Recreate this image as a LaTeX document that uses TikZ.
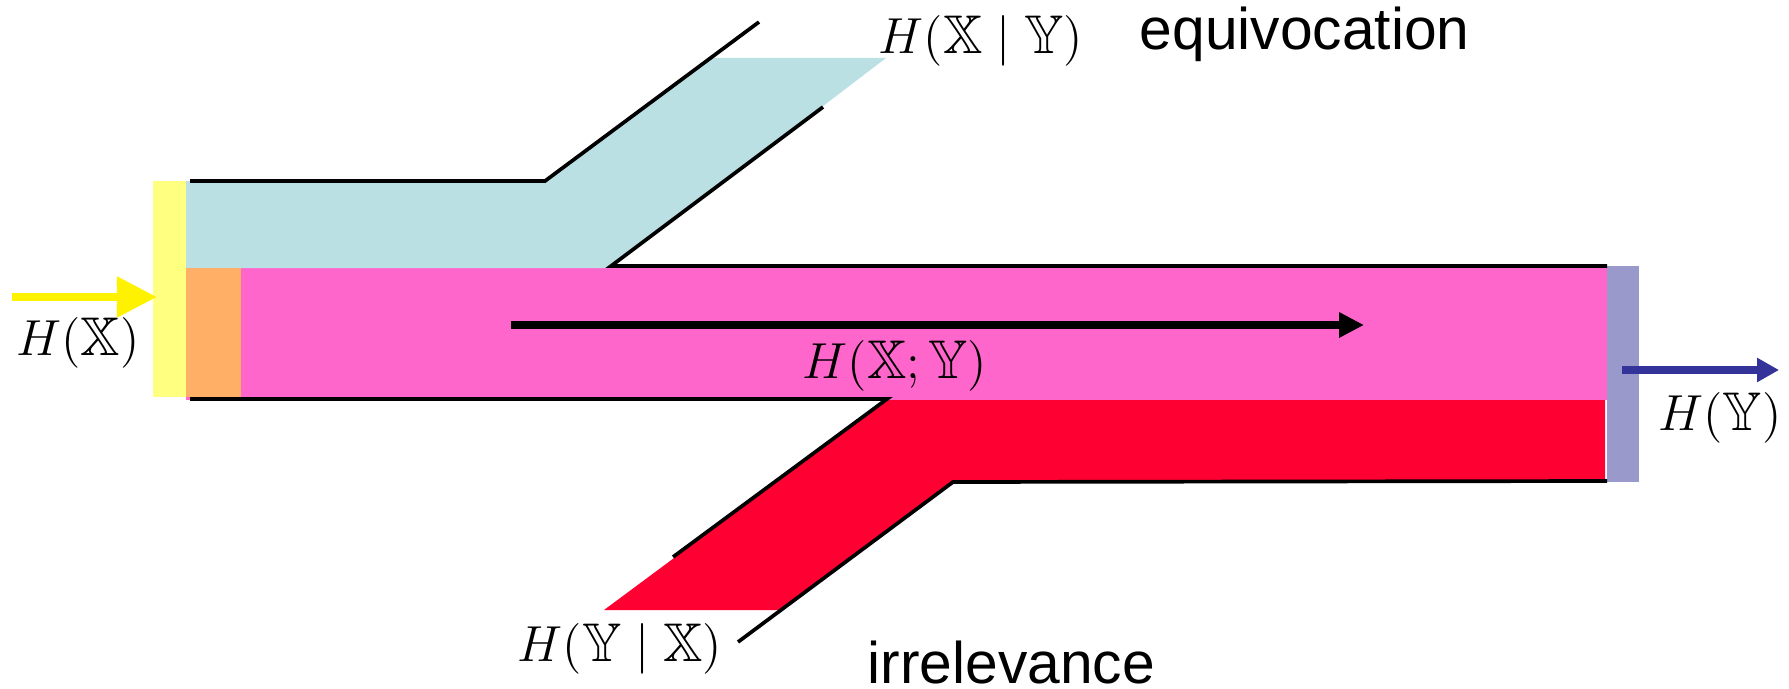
\documentclass[tikz,border=0pt]{standalone}
\usepackage{amssymb}
\usepackage{fontspec}
\setsansfont{Liberation Sans}
\usetikzlibrary{arrows.meta}

\definecolor{yellowbar}{RGB}{255,255,128}
\definecolor{cyanflow}{RGB}{187,224,227}
\definecolor{orangeflow}{RGB}{255,176,102}
\definecolor{pinkflow}{RGB}{255,102,204}
\definecolor{redflow}{RGB}{255,0,51}
\definecolor{purplebar}{RGB}{153,153,204}
\definecolor{outblue}{RGB}{51,51,153}

\begin{document}
\begin{tikzpicture}[x=0.01cm, y=-0.01cm, line width=1pt, line join=miter,
    wall/.style={black, line width=1.05pt},
    mathlabel/.style={inner sep=0pt, font=\fontsize{15.5}{18}\selectfont},
    wordlabel/.style={inner sep=0pt, anchor=base west, font=\fontsize{16.7}{19}\selectfont\sffamily}]

            \useasboundingbox (0,0) rectangle (1789,688);

            % ==========================================
            % 1. Flussi colorati
            % ==========================================
            \fill[pinkflow] (186,268) rectangle (1607,400);
            \fill[cyanflow] (186,181) -- (545,181) -- (711,58) -- (886,58)
                -- (611,268) -- (186,268) -- cycle;
            \fill[redflow] (887,400) -- (1605,400) -- (1605,481) -- (953,481)
                -- (781,610) -- (604,610) -- cycle;
            \fill[orangeflow] (186,268) rectangle (241,397);

            % ==========================================
            % 2. Ingresso e uscita
            % ==========================================
            \fill[yellowbar] (153,181) rectangle (186,397);
            \fill[purplebar] (1607,266) rectangle (1639,482);

            % ==========================================
            % 3. Pareti del canale
            % ==========================================
            \draw[wall] (190,181) -- (545,181) -- (759,22);
            \draw[wall] (823,107) -- (611,266) -- (1607,266);
            \draw[wall] (190,399) -- (887,399) -- (673,557);
            \draw[wall] (738,642) -- (953,482) -- (1607,481);

            % ==========================================
            % 4. Frecce
            % ==========================================
            \coordinate (src) at (12,297);
            \coordinate (inlet) at (157,297);
            \coordinate (mistart) at (511,325);
            \coordinate (miend) at (1364,325);
            \coordinate (outlet) at (1622,370);
            \coordinate (sink) at (1779,370);

            \draw[yellow, line width=2.3pt, -{Triangle[length=0.4cm, width=0.39cm]}] (src) -- (inlet);
            \draw[black, line width=2.2pt, -{Triangle[length=0.25cm, width=0.24cm]}] (mistart) -- (miend);
            \draw[outblue, line width=2.3pt, -{Triangle[length=0.22cm, width=0.23cm]}] (outlet) -- (sink);

            % ==========================================
            % 5. Etichette
            % ==========================================
            \node[mathlabel] (hx) at (78,343) {$H(\mathbb{X})$};
            \node[mathlabel] (hxgy) at (981,41) {$H(\mathbb{X}\mid\mathbb{Y})$};
            \node[mathlabel] (hxy) at (895,366) {$H(\mathbb{X};\mathbb{Y})$};
            \node[mathlabel] (hy) at (1720,418) {$H(\mathbb{Y})$};
            \node[mathlabel] (hygx) at (620,649) {$H(\mathbb{Y}\mid\mathbb{X})$};
            \node[wordlabel] (equiv) at (1138,50) {equivocation};
            \node[wordlabel] (irrel) at (866,683) {irrelevance};

\end{tikzpicture}
\end{document}
